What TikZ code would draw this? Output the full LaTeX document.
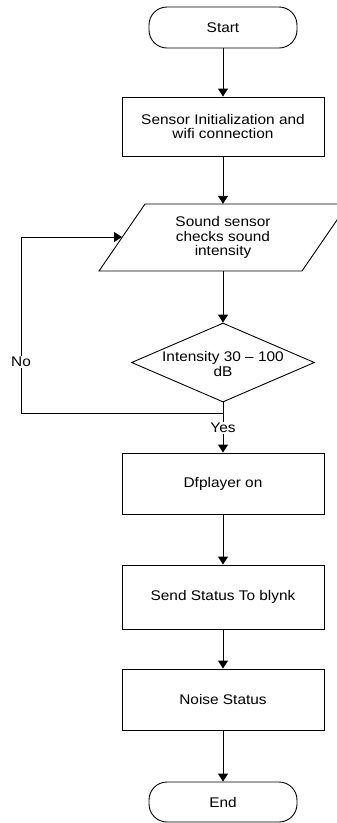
\documentclass[tikz,border=0pt]{standalone}
\usepackage{fontspec}
\setmainfont[FakeStretch=1.1]{Liberation Sans}
\usetikzlibrary{shapes.geometric,arrows.meta}
\begin{document}
\begin{tikzpicture}[x=1pt,y=-1pt,
  every node/.style={font=\fontsize{14}{14.5}\selectfont},
  ln/.style={line width=0.9pt, draw=black},
  proc/.style={ln, rectangle, minimum width=202pt, align=center, inner sep=0pt},
  term/.style={ln, rectangle, rounded corners=18pt, minimum width=148pt, minimum height=41pt, inner sep=0pt},
  arr/.style={ln, -{Triangle[width=10pt,length=8pt]}},
  lbl/.style={fill=white, inner sep=1pt}]
\useasboundingbox (0,0) rectangle (337,823);

\node[term] (start) at (223,27.5) {Start};
\node[proc, minimum height=59pt] (init) at (223,126.5) {Sensor Initialization and\\wifi connection};

% parallelogram (input)
\begin{scope}
  \clip (0,0) rectangle (337,823);
  \draw[ln] (145,204) -- (348,204) -- (302,271) -- (99,271) -- cycle;
\end{scope}
\node[minimum height=67pt, inner sep=0pt, align=center] (para) at (223,237.5) {Sound sensor\\checks sound\\intensity};
\coordinate (paraleft) at (122,237);

\node[ln, diamond, minimum width=183pt, minimum height=79pt, inner sep=0pt] (dia) at (223,362.5) {};
\node[align=center, inner sep=0pt] (diatext) at (223,364) {Intensity 30 -- 100\\dB};

\node[proc, minimum height=61pt] (dfp) at (223,483.5) {Dfplayer on};
\node[proc, minimum height=64pt] (send) at (223,597) {Send Status To blynk};
\node[proc, minimum height=61pt] (noise) at (223,699.5) {Noise Status};
\node[term, minimum height=40pt] (end) at (223,802) {End};

\draw[arr] (start) -- (init);
\draw[arr] (init) -- (para.north);
\draw[arr] (para.south) -- (dia.north);

\coordinate (j) at (223,413);
\coordinate (jl) at (21,413);
\coordinate (tl) at (21,237);
\draw[ln] (dia.south) -- (j);
\draw[arr] (j) -- (jl) -- (tl) -- (paraleft);
\draw[arr] (j) -- (dfp.north);
\draw[arr] (dfp) -- (send);
\draw[arr] (send) -- (noise);
\draw[arr] (noise) -- (end);

\node[lbl] (no) at (21,362) {No};
\node[lbl] (yes) at (223,428) {Yes};
\end{tikzpicture}
\end{document}
